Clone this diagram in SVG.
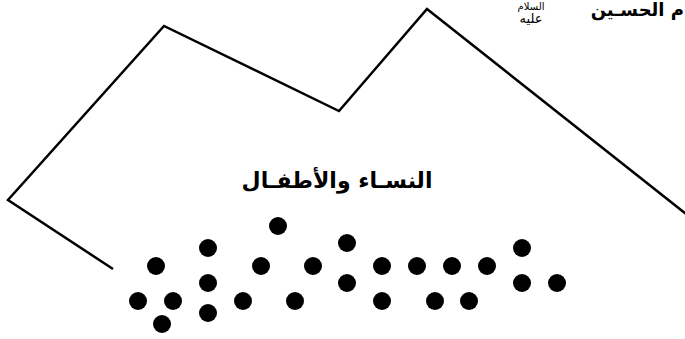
<svg xmlns="http://www.w3.org/2000/svg" width="685" height="339" viewBox="0 0 685 339">
<style>
.outline{fill:none;stroke:#000;stroke-width:2.5;stroke-linejoin:miter}
.dot{fill:#000}
.lbl{font-family:"DejaVu Sans",sans-serif;font-weight:bold;fill:#000}
.small{font-family:"DejaVu Sans",sans-serif;fill:#000}
</style>
<rect width="685" height="339" fill="#fff"/>
<g id="connectors">
<polyline class="outline" points="113,269 8,200 164,26 339,111 427,9 690,217"/>
</g>
<g id="title">
<text class="lbl" x="684" y="16" font-size="18" text-anchor="end" direction="ltr">م الحسـين</text>
<text class="small" x="531" y="10" font-size="10" text-anchor="middle">السلام</text>
<text class="small" x="531" y="23" font-size="13" text-anchor="middle">عليه</text>
</g>
<g id="label">
<text class="lbl" x="337" y="188" font-size="22" text-anchor="middle">النسـاء والأطفـال</text>
</g>
<g id="dots">
<circle class="dot" cx="156" cy="266" r="9"/>
<circle class="dot" cx="138" cy="301" r="9"/>
<circle class="dot" cx="173" cy="301" r="9"/>
<circle class="dot" cx="162" cy="324" r="9"/>
<circle class="dot" cx="208" cy="248" r="9"/>
<circle class="dot" cx="208" cy="283" r="9"/>
<circle class="dot" cx="208" cy="313" r="9"/>
<circle class="dot" cx="243" cy="301" r="9"/>
<circle class="dot" cx="278" cy="226" r="9"/>
<circle class="dot" cx="261" cy="266" r="9"/>
<circle class="dot" cx="295" cy="301" r="9"/>
<circle class="dot" cx="313" cy="266" r="9"/>
<circle class="dot" cx="347" cy="243" r="9"/>
<circle class="dot" cx="347" cy="283" r="9"/>
<circle class="dot" cx="382" cy="266" r="9"/>
<circle class="dot" cx="382" cy="301" r="9"/>
<circle class="dot" cx="417" cy="266" r="9"/>
<circle class="dot" cx="452" cy="266" r="9"/>
<circle class="dot" cx="487" cy="266" r="9"/>
<circle class="dot" cx="435" cy="301" r="9"/>
<circle class="dot" cx="469" cy="301" r="9"/>
<circle class="dot" cx="522" cy="248" r="9"/>
<circle class="dot" cx="522" cy="283" r="9"/>
<circle class="dot" cx="557" cy="283" r="9"/>
</g>
</svg>
